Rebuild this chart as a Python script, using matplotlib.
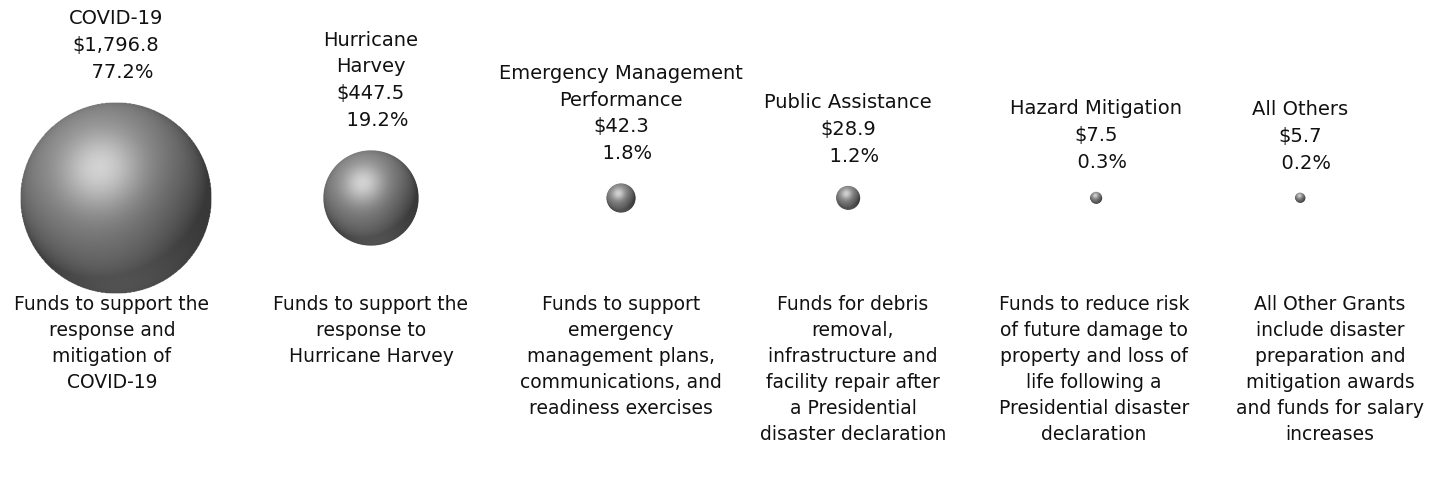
import numpy as np
import matplotlib
matplotlib.use("Agg")
import matplotlib.pyplot as plt
from matplotlib.patches import Circle

# grant categories, $ millions and share of total
names = ["COVID-19", "Hurricane\nHarvey", "Emergency Management\nPerformance",
         "Public Assistance", "Hazard Mitigation", "All Others"]
amounts = [1796.8, 447.5, 42.3, 28.9, 7.5, 5.7]
shares = [77.2, 19.2, 1.8, 1.2, 0.3, 0.2]
descs = ["Funds to support the\nresponse and\nmitigation of\nCOVID-19",
         "Funds to support the\nresponse to\nHurricane Harvey",
         "Funds to support\nemergency\nmanagement plans,\ncommunications, and\nreadiness exercises",
         "Funds for debris\nremoval,\ninfrastructure and\nfacility repair after\na Presidential\ndisaster declaration",
         "Funds to reduce risk\nof future damage to\nproperty and loss of\nlife following a\nPresidential disaster\ndeclaration",
         "All Other Grants\ninclude disaster\npreparation and\nmitigation awards\nand funds for salary\nincreases"]

XC = [116, 371, 621, 848, 1096, 1300]     # sphere centres
XD = [112, 371, 621, 853, 1094, 1330]     # description centres
YC = 198
RMAX = 96

plt.rcParams["font.family"] = ["DejaVu Sans"]
fig = plt.figure(figsize=(14.33, 4.79), dpi=100)
ax = fig.add_axes([0, 0, 1, 1])
ax.set_xlim(0, 1433); ax.set_ylim(479, 0); ax.set_aspect("equal"); ax.axis("off")

# shaded sphere texture
n = 300
u, v = np.meshgrid(np.linspace(-1, 1, n), np.linspace(-1, 1, n))
rr = u**2 + v**2
z = np.sqrt(np.clip(1 - rr, 0, 1))
L = np.array([-0.3, -0.55, 0.78]); L /= np.linalg.norm(L)
lam = np.clip(u*L[0] + v*L[1] + z*L[2], 0, 1)
H = L + np.array([0, 0, 1.0]); H /= np.linalg.norm(H)
spec = np.clip(u*H[0] + v*H[1] + z*H[2], 0, 1) ** 12
B = np.array([0.05, 0.85, 0.4]); B /= np.linalg.norm(B)
bounce = np.clip(u*B[0] + v*B[1] + z*B[2], 0, 1) ** 3
shade = 0.22 + 0.36*lam + 0.26*spec + 0.1*bounce
shade = np.clip(shade, 0, 1)
shade[rr > 1] = 1

vmax = max(amounts)
for x, a, nm, s, d, xd in zip(XC, amounts, names, shares, descs, XD):
    r = RMAX * np.sqrt(a / vmax)
    im = ax.imshow(shade, cmap="gray", vmin=0, vmax=1, interpolation="bilinear",
                   extent=(x - r, x + r, YC + r, YC - r), zorder=2)
    im.set_clip_path(Circle((x, YC), r, transform=ax.transData))
    ax.text(x, YC - r - 20, f"{nm}\n${a:,.1f}\n  {s:.1f}%", ha="center", va="bottom",
            fontsize=14, color="#111111", linespacing=1.52)
    ax.text(xd, 295, d, ha="center", va="top", fontsize=13.5, color="#111111",
            linespacing=1.46)

ax.set_xlim(0, 1433); ax.set_ylim(479, 0)
fig.savefig("out.png", dpi=100, facecolor="white")
